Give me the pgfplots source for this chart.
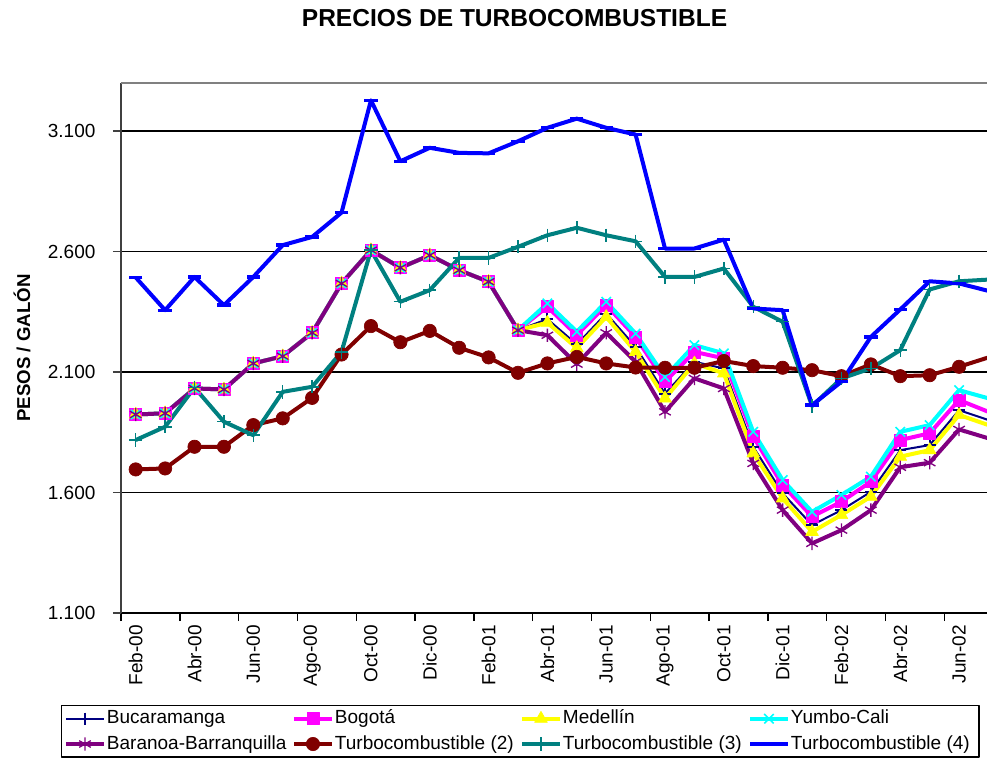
\documentclass[border=0pt]{standalone}
\usepackage{fontspec}
\setmainfont{Liberation Sans}
\usepackage{pgfplots}
\usepackage{pgfplotstable}
\pgfplotsset{compat=1.18}

\definecolor{navyc}{RGB}{0,0,128}
\definecolor{magc}{RGB}{255,0,255}
\definecolor{yelc}{RGB}{255,255,0}
\definecolor{cyanc}{RGB}{0,255,255}
\definecolor{purc}{RGB}{128,0,128}
\definecolor{marc}{RGB}{128,0,0}
\definecolor{tealc}{RGB}{0,128,128}
\definecolor{bluec}{RGB}{0,0,255}

% precios mensuales, Feb-00 = 0
\pgfplotstableread{
i  buc  bog  med  cali baq  t2   t3   t4
0  1924 1924 1924 1924 1924 1696 1818 2493
1  1929 1929 1929 1929 1929 1700 1873 2357
2  2032 2032 2032 2032 2032 1790 2036 2495
3  2028 2028 2028 2028 2028 1790 1894 2378
4  2136 2136 2136 2136 2136 1880 1838 2495
5  2166 2166 2166 2166 2166 1908 2018 2627
6  2263 2263 2263 2263 2263 1993 2039 2661
7  2468 2468 2468 2468 2468 2173 2184 2762
8  2606 2606 2606 2606 2606 2291 2606 3228
9  2533 2533 2533 2533 2533 2224 2392 2975
10 2585 2585 2585 2585 2585 2271 2440 3031
11 2523 2523 2523 2523 2523 2201 2574 3010
12 2475 2475 2475 2475 2475 2161 2574 3008
13 2274 2274 2274 2274 2274 2097 2620 3058
14 2320 2371 2305 2385 2253 2136 2668 3114
15 2215 2253 2200 2268 2133 2163 2699 3152
16 2343 2378 2329 2392 2263 2136 2668 3114
17 2205 2246 2184 2260 2143 2119 2643 3086
18 2011 2060 1991 2080 1935 2118 2495 2613
19 2143 2184 2136 2212 2074 2118 2495 2613
20 2115 2157 2095 2178 2032 2146 2530 2650
21 1790 1832 1763 1852 1721 2125 2371 2364
22 1597 1631 1576 1652 1527 2118 2309 2357
23 1465 1500 1437 1520 1389 2108 1959 1963
24 1527 1562 1507 1590 1444 2083 2074 2060
25 1603 1645 1583 1666 1527 2132 2115 2246
26 1776 1818 1749 1852 1705 2083 2191 2360
27 1797 1846 1776 1880 1724 2087 2443 2477
28 1942 1984 1922 2025 1862 2122 2477 2468
29 1901 1935 1880 1991 1825 2161 2484 2437
}\precios

\newcommand{\lb}[1]{\makebox[138pt][l]{#1}}

\begin{document}
\begin{tikzpicture}
\useasboundingbox (-90.75pt,-111pt) rectangle (649.5pt,459.75pt);
\begin{axis}[
    scale only axis,
    width=649.5pt, height=397.5pt,
    xmin=-0.5, xmax=28.95,
    ymin=1100, ymax=3300,
    axis x line*=bottom, axis y line*=left,
    x axis line style={black, line width=1.1pt},
    y axis line style={black!75, line width=1.5pt},
    tick align=outside,
    xtick={-0.5,1.5,...,27.5},
    xticklabels={},
    x tick style={black, line width=1.1pt},
    major tick length=6pt,
    extra x ticks={0,2,...,28},
    extra x tick labels={Feb-00,Abr-00,Jun-00,Ago-00,Oct-00,Dic-00,Feb-01,Abr-01,Jun-01,Ago-01,Oct-01,Dic-01,Feb-02,Abr-02,Jun-02},
    extra x tick style={major tick length=0pt, grid=none,
        xticklabel style={rotate=90, anchor=east, inner sep=0pt, xshift=-9pt,
            font=\fontsize{14.25}{16}\selectfont}},
    ytick={1100,1600,2100,2600,3100},
    yticklabels={1.100,1.600,2.100,2.600,3.100},
    y tick style={black!75, line width=1.1pt},
    yticklabel style={inner sep=0pt, xshift=-13pt},
    extra y ticks={3300},
    extra y tick labels={},
    extra y tick style={major tick length=0pt, grid=major,
        grid style={black!50, line width=1.5pt}},
    ymajorgrids=true,
    grid style={black, line width=1.1pt},
    tick label style={font=\fontsize{14.25}{16}\selectfont},
    ylabel={\bfseries PESOS / GALÓN},
    ylabel style={at={(axis description cs:-0.1143,0.5)}, anchor=center,
        font=\fontsize{14}{16}\selectfont},
    title={\bfseries PRECIOS DE TURBOCOMBUSTIBLE},
    title style={at={(axis description cs:0.4544,1.1075)}, anchor=center,
        font=\fontsize{18.4}{21}\selectfont},
    legend columns=4,
    legend cell align=left,
    legend image code/.code={
        \draw[mark repeat=2,mark phase=2] plot coordinates {(0pt,0pt) (14pt,0pt) (28pt,0pt)};},
    legend style={at={(axis description cs:-0.0693,-0.1736)}, anchor=north west,
        draw=black, line width=1pt, inner xsep=2pt, inner ysep=2pt,
        column sep=0pt, row sep=3.5pt,
        font=\fontsize{14.25}{16}\selectfont,
        nodes={inner xsep=1pt, inner ysep=1pt, text height=10.5pt, text depth=3pt}},
    line join=round,
]
\addplot[navyc, line width=1.5pt, mark=+, mark size=4.5pt,
    mark options={line width=1.5pt}] table[x=i, y=buc] {\precios};
\addlegendentry{\lb{Bucaramanga}}
\addplot[magc, line width=3pt, mark=square*, mark size=4.5pt,
    mark options={line width=0.5pt, fill=magc}] table[x=i, y=bog] {\precios};
\addlegendentry{\lb{Bogotá}}
\addplot[yelc, line width=3pt, mark=triangle*, mark size=5.5pt,
    mark options={line width=0.5pt, fill=yelc}] table[x=i, y=med] {\precios};
\addlegendentry{\lb{Medellín}}
\addplot[cyanc, line width=3pt, mark=x, mark size=5pt,
    mark options={line width=1.2pt}] table[x=i, y=cali] {\precios};
\addlegendentry{\lb{Yumbo-Cali}}
\addplot[purc, line width=3pt, mark=asterisk, mark size=5pt,
    mark options={line width=1pt}] table[x=i, y=baq] {\precios};
\addlegendentry{\lb{Baranoa-Barranquilla}}
\addplot[marc, line width=3pt, mark=*, mark size=5pt,
    mark options={fill=marc, line width=0.5pt}] table[x=i, y=t2] {\precios};
\addlegendentry{\lb{Turbocombustible (2)}}
\addplot[tealc, line width=3pt, mark=+, mark size=5pt,
    mark options={line width=1.1pt}] table[x=i, y=t3] {\precios};
\addlegendentry{\lb{Turbocombustible (3)}}
\addplot[bluec, line width=3pt, mark=-, mark size=5pt,
    mark options={line width=2.5pt}] table[x=i, y=t4] {\precios};
\addlegendentry{\lb{Turbocombustible (4)}}
\end{axis}
\end{tikzpicture}
\end{document}
